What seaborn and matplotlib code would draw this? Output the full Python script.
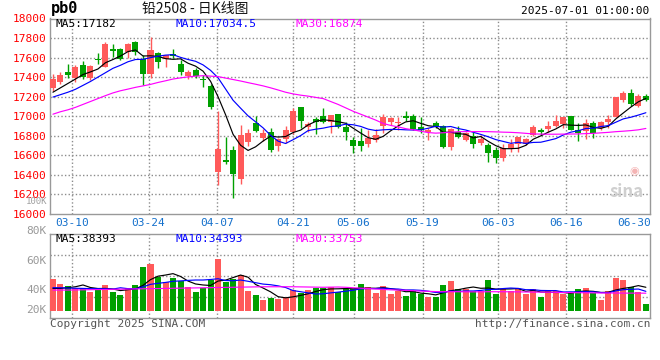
# Lead 2508 daily K-line (sina style) -- candles + MA lines, volume panel below

import numpy as np
import pandas as pd
import seaborn as sns
import matplotlib.pyplot as plt

sns.set_style('white')
plt.rcParams['font.family'] = ['Noto Sans CJK SC', 'DejaVu Sans']

# 1. Data (80 sessions, 03-05 .. 07-01)

opens = [17292, 17354, 17452, 17395, 17524, 17388, 17589, 17507, 17688, 17688,
         17654, 17763, 17582, 17429, 17644, 17582, 17634, 17535, 17415, 17473,
         17384, 17309, 16425, 16552, 16654, 16357, 16739, 16934, 16780, 16842,
         16695, 16767, 16835, 17091, 16886, 16968, 17002, 16944, 17022, 16886,
         16757, 16746, 16716, 16756, 16903, 16944, 16934, 17002, 17002, 16889,
         16835, 16934, 16900, 16688, 16842, 16757, 16801, 16729, 16705, 16654,
         16575, 16678, 16712, 16712, 16808, 16855, 16869, 16900, 16917, 17002,
         16859, 16852, 16934, 16883, 16937, 16995, 17166, 17234, 17104, 17210]
highs = [17429, 17449, 17531, 17524, 17565, 17524, 17643, 17756, 17735, 17701,
         17753, 17773, 17627, 17814, 17654, 17627, 17688, 17576, 17473, 17497,
         17422, 17326, 17056, 16784, 16695, 16910, 16869, 17002, 16866, 16876,
         16780, 16903, 17080, 17091, 16937, 16995, 17080, 17012, 17022, 16944,
         16784, 16876, 16859, 16869, 17022, 16995, 16995, 17053, 17019, 16995,
         16876, 16951, 16910, 16876, 16900, 16835, 16842, 16808, 16722, 16688,
         16712, 16767, 16790, 16780, 16910, 16876, 16954, 17012, 16995, 17002,
         16927, 16971, 16951, 16951, 17012, 17200, 17261, 17278, 17227, 17227]
lows = [17258, 17326, 17388, 17354, 17381, 17371, 17538, 17500, 17606, 17575,
        17592, 17627, 17319, 17388, 17490, 17507, 17592, 17422, 17381, 17388,
        17302, 17073, 16296, 16511, 16166, 16306, 16698, 16835, 16746, 16630,
        16644, 16729, 16820, 16876, 16835, 16818, 16927, 16825, 16876, 16757,
        16627, 16644, 16688, 16739, 16825, 16910, 16859, 16951, 16859, 16831,
        16757, 16876, 16671, 16654, 16773, 16746, 16678, 16705, 16534, 16524,
        16541, 16637, 16630, 16705, 16801, 16808, 16842, 16893, 16876, 16859,
        16746, 16763, 16780, 16859, 16883, 16995, 17142, 17108, 17098, 17159]
closes = [17381, 17422, 17418, 17504, 17405, 17514, 17572, 17739, 17671, 17586,
          17739, 17654, 17432, 17678, 17559, 17623, 17617, 17456, 17453, 17412,
          17367, 17097, 16664, 16535, 16408, 16808, 16831, 16849, 16831, 16654,
          16763, 16859, 17053, 16954, 16920, 16944, 16944, 17012, 16893, 16842,
          16695, 16695, 16774, 16808, 16995, 16978, 16944, 16978, 16869, 16859,
          16859, 16900, 16688, 16869, 16790, 16825, 16712, 16763, 16620, 16569,
          16671, 16712, 16784, 16767, 16886, 16842, 16900, 16951, 16988, 16859,
          16825, 16927, 16825, 16937, 16971, 17200, 17234, 17121, 17207, 17166]

ma5 = [17245, 17290, 17335, 17380, 17426, 17453, 17483, 17547, 17580, 17616,
       17661, 17678, 17616, 17618, 17612, 17589, 17582, 17587, 17542, 17512,
       17461, 17357, 17199, 17015, 16814, 16702, 16649, 16686, 16745, 16795,
       16786, 16791, 16832, 16857, 16910, 16946, 16963, 16955, 16943, 16927,
       16877, 16827, 16780, 16763, 16793, 16850, 16900, 16941, 16953, 16926,
       16902, 16893, 16835, 16835, 16821, 16814, 16777, 16792, 16742, 16698,
       16667, 16667, 16671, 16701, 16764, 16798, 16836, 16869, 16913, 16908,
       16905, 16910, 16885, 16875, 16897, 16972, 17033, 17093, 17147, 17182]
ma10 = [17195, 17220, 17245, 17275, 17315, 17355, 17400, 17445, 17490, 17521,
        17557, 17580, 17582, 17599, 17614, 17625, 17630, 17602, 17580, 17562,
        17525, 17469, 17393, 17278, 17163, 17082, 17003, 16942, 16880, 16804,
        16744, 16720, 16759, 16801, 16852, 16866, 16877, 16893, 16900, 16918,
        16912, 16895, 16867, 16853, 16860, 16864, 16864, 16860, 16858, 16860,
        16876, 16896, 16888, 16894, 16873, 16858, 16835, 16813, 16789, 16760,
        16741, 16722, 16732, 16721, 16731, 16733, 16751, 16770, 16807, 16836,
        16851, 16873, 16877, 16894, 16903, 16938, 16972, 16989, 17011, 17035]
ma30 = [17020, 17045, 17065, 17090, 17120, 17150, 17180, 17210, 17238, 17260,
        17277, 17295, 17310, 17325, 17345, 17362, 17380, 17392, 17402, 17410,
        17414, 17410, 17405, 17390, 17375, 17360, 17343, 17327, 17310, 17290,
        17268, 17245, 17228, 17215, 17205, 17192, 17180, 17150, 17120, 17085,
        17050, 17020, 16990, 16960, 16925, 16905, 16890, 16872, 16860, 16845,
        16832, 16826, 16830, 16836, 16840, 16842, 16842, 16842, 16841, 16839,
        16836, 16834, 16830, 16824, 16818, 16816, 16815, 16815, 16816, 16817,
        16818, 16821, 16824, 16829, 16834, 16841, 16846, 16852, 16860, 16874]

# volume in thousands of lots
vol = [44.9, 40.9, 39.4, 37.5, 38.1, 34.9, 37.0, 40.2, 34.7, 32.3,
       38.1, 40.2, 54.3, 56.9, 46.2, 42.5, 45.7, 43.3, 38.8, 34.9,
       38.1, 44.1, 60.6, 42.5, 44.9, 48.0, 35.4, 32.3, 28.4, 29.9,
       29.2, 30.7, 36.2, 34.1, 36.2, 38.1, 38.1, 38.8, 34.9, 37.0,
       37.0, 40.9, 38.8, 34.1, 39.6, 33.1, 35.7, 31.8, 35.4, 33.1,
       30.7, 31.0, 40.2, 43.3, 37.3, 36.8, 35.4, 35.4, 44.1, 33.1,
       37.0, 35.7, 37.0, 33.1, 37.0, 30.7, 35.2, 35.4, 33.1, 34.1,
       37.0, 37.8, 34.1, 28.4, 35.4, 45.7, 44.1, 38.6, 34.9, 25.2]
vol_ma5 = [37.5, 37.5, 38.1, 38.8, 40.2, 38.2, 37.4, 37.5, 37.0, 35.8,
           36.5, 37.1, 39.9, 44.4, 47.1, 48.0, 49.1, 46.9, 43.3, 41.0,
           40.2, 39.8, 43.3, 44.0, 46.0, 48.0, 46.3, 40.6, 37.8, 34.8,
           31.0, 30.1, 30.9, 32.0, 33.3, 35.1, 36.5, 37.1, 37.2, 37.4,
           37.2, 37.7, 37.7, 37.6, 38.1, 37.3, 36.3, 34.9, 35.1, 33.8,
           33.3, 32.4, 34.1, 35.7, 36.5, 37.7, 38.6, 37.6, 37.8, 37.0,
           37.0, 37.1, 37.4, 35.2, 36.0, 34.7, 34.6, 34.3, 34.3, 33.7,
           35.0, 35.5, 35.2, 34.3, 34.5, 36.3, 37.5, 38.4, 39.7, 38.4]
vol_ma10 = [38.1, 38.0, 37.8, 37.6, 37.5, 37.3, 37.3, 37.2, 37.0, 38.0,
            37.3, 37.2, 38.7, 40.7, 41.5, 42.2, 43.1, 43.4, 43.8, 44.1,
            44.1, 44.5, 45.1, 43.7, 43.5, 44.1, 43.1, 42.0, 40.9, 40.4,
            39.5, 38.2, 35.8, 34.9, 34.0, 33.1, 33.3, 34.0, 34.6, 35.3,
            36.1, 37.1, 37.4, 37.4, 37.7, 37.2, 37.0, 36.3, 36.3, 36.0,
            35.3, 34.3, 34.5, 35.4, 35.2, 35.5, 35.5, 35.9, 36.7, 36.7,
            37.4, 37.8, 37.5, 36.5, 36.5, 35.9, 35.8, 35.8, 34.7, 34.8,
            34.8, 35.0, 34.8, 34.3, 34.1, 35.6, 36.5, 36.8, 37.0, 35.2]
vol_ma30 = [36.2, 36.2, 36.2, 36.3, 36.4, 36.5, 36.6, 36.7, 36.8, 36.9,
            37.0, 37.1, 37.2, 37.3, 37.4, 37.5, 37.6, 37.7, 37.8, 37.9,
            38.0, 38.1, 38.2, 38.3, 38.4, 38.5, 38.6, 38.7, 38.8, 38.8,
            38.8, 38.8, 38.8, 38.7, 38.6, 38.5, 38.4, 38.5, 38.6, 38.4,
            38.0, 37.7, 37.4, 37.0, 36.7, 36.4, 36.2, 36.0, 35.7, 35.4,
            35.2, 35.0, 34.9, 34.9, 34.9, 34.8, 34.8, 34.8, 34.9, 34.9,
            34.9, 34.8, 34.8, 34.7, 34.6, 34.6, 34.5, 34.4, 34.3, 34.2,
            34.1, 34.1, 34.0, 33.9, 33.9, 33.9, 33.8, 33.8, 33.8, 33.75]

date_labels = ['03-10', '03-24', '04-07', '04-21', '05-06', '05-19', '06-03', '06-16', '06-30']
date_pos = [2.6, 12.75, 21.85, 31.95, 40.05, 49.25, 59.35, 68.4, 77.45]  # label centres (candle index units)

# 2. Frame

RED, GREEN = '#ff5a5a', '#00a000'
GRID = dict(color='#8c8c8c', lw=1.0, ls=(0, (1, 1.6)))
MONO = 'DejaVu Sans Mono'
FS = 8
LW = 0.85

df = pd.DataFrame({'open': opens, 'high': highs, 'low': lows, 'close': closes, 'vol': vol,
                   'ma5': ma5, 'ma10': ma10, 'ma30': ma30,
                   'vma5': vol_ma5, 'vma10': vol_ma10, 'vma30': vol_ma30})
df['x'] = np.arange(len(df))
colors = np.where(df['close'] >= df['open'], RED, GREEN)

W, H = 660, 360
def fx(px): return px / W
def fy(py): return 1 - py / H

fig = plt.figure(figsize=(6.6, 3.6), dpi=100)
ax = fig.add_axes([fx(50.3), fy(213.8), (650 - 50.3) / W, (213.8 - 18.5) / H])
axv = fig.add_axes([fx(50.3), fy(317.7), (650 - 50.3) / W, (317.7 - 234.3) / H])

# 3. Price panel

body_lo = np.minimum(df['open'], df['close'])
body_h = np.maximum((df['close'] - df['open']).abs(), 8)
ax.vlines(df['x'], df['low'], df['high'], colors=colors, lw=1.0, zorder=3)
ax.bar(df['x'], body_h, bottom=body_lo, width=0.8, color=colors, linewidth=0, zorder=3)
sns.lineplot(data=df, x='x', y='ma5', ax=ax, color='black', lw=LW, zorder=4)
sns.lineplot(data=df, x='x', y='ma10', ax=ax, color='#0000ff', lw=LW, zorder=4)
sns.lineplot(data=df, x='x', y='ma30', ax=ax, color='#ff00ff', lw=LW, zorder=4)

ax.set_xlim(-0.35, 79.55)
ax.set_ylim(16000, 18000)
ax.set_yticks(range(16000, 18001, 200))
ax.set_xticks(date_pos)
ax.set_xticklabels(date_labels)
ax.set_xlabel('')
ax.set_ylabel('')
ax.grid(False)
for yv in range(16200, 18000, 200):
    ax.axhline(yv, zorder=1, **GRID)
for p in date_pos[:-1]:
    ax.axvline(p, zorder=1, **GRID)
ax.tick_params(axis='y', length=0, pad=2.5, labelsize=FS, labelcolor='#ff0000')
ax.tick_params(axis='x', length=0, pad=3, labelsize=FS, labelcolor='#1470cc')
for lab in ax.get_yticklabels() + ax.get_xticklabels():
    lab.set_fontfamily(MONO)

ax.text(fx(55) , fy(24), 'MA5:17182', transform=fig.transFigure, family=MONO, fontsize=FS, color='black', va='center')
ax.text(fx(175), fy(24), 'MA10:17034.5', transform=fig.transFigure, family=MONO, fontsize=FS, color='#0000ff', va='center')
ax.text(fx(295), fy(24), 'MA30:16874', transform=fig.transFigure, family=MONO, fontsize=FS, color='#ff00ff', va='center')
fig.text(fx(634), fy(171), '◉', family='DejaVu Sans', color='#f4b4b4', fontsize=8, ha='center', va='center')
fig.text(fx(627), fy(192), 'sina', color='#cfcfcf', fontsize=12, style='italic', weight='bold', ha='center', va='center')

# 4. Volume panel

axv.bar(df['x'], df['vol'] - 20, bottom=20, width=0.8, color=colors, linewidth=0, zorder=3)
sns.lineplot(data=df, x='x', y='vma5', ax=axv, color='black', lw=LW, zorder=4)
sns.lineplot(data=df, x='x', y='vma10', ax=axv, color='#0000ff', lw=LW, zorder=4)
sns.lineplot(data=df, x='x', y='vma30', ax=axv, color='#ff00ff', lw=LW, zorder=4)
axv.set_xlim(-0.35, 79.55)
axv.set_ylim(14.5, 80)
axv.set_xticks([])
axv.set_yticks([])
axv.set_xlabel('')
axv.set_ylabel('')
for f in (0.25, 0.5, 0.75):
    axv.plot([0, 1], [f, f], transform=axv.transAxes, zorder=1, **GRID)
for p in date_pos[:-1]:
    axv.axvline(p, zorder=1, **GRID)
for val, txt in [(82.6, '80K'), (59.0, '60K'), (36.2, '40K'), (20.5, '20K')]:
    axv.text(-0.006, val, txt, transform=axv.get_yaxis_transform(), ha='right', va='center',
             family=MONO, fontsize=FS, color='#999999', clip_on=False)
fig.text(fx(47.5), fy(202), '100K', ha='right', va='center', family=MONO, fontsize=6.5, color='#a0a0a0')

axv.text(fx(55) , fy(238.5), 'MA5:38393', transform=fig.transFigure, family=MONO, fontsize=FS, color='black', va='center')
axv.text(fx(175), fy(238.5), 'MA10:34393', transform=fig.transFigure, family=MONO, fontsize=FS, color='#0000ff', va='center')
axv.text(fx(295), fy(238.5), 'MA30:33753', transform=fig.transFigure, family=MONO, fontsize=FS, color='#ff00ff', va='center')

for a in (ax, axv):
    for s in a.spines.values():
        s.set_color('#999999')
        s.set_linewidth(1.0)

# 5. Header / footer

fig.text(fx(51), fy(9), 'pb0', family=MONO, fontsize=11, weight='bold', color='black', va='center')
fig.text(fx(195), fy(9), '铅2508 - 日K线图', fontsize=10, color='#111111', ha='center', va='center')
fig.text(fx(649), fy(11), '2025-07-01 01:00:00', family=MONO, fontsize=FS, color='black', ha='right', va='center')
fig.text(fx(50), fy(324), 'Copyright 2025 SINA.COM', family=MONO, fontsize=FS, color='#555555', va='center')
fig.text(fx(650), fy(324), 'http://finance.sina.com.cn', family=MONO, fontsize=FS, color='#555555', ha='right', va='center')

fig.savefig('out.png', dpi=100)
